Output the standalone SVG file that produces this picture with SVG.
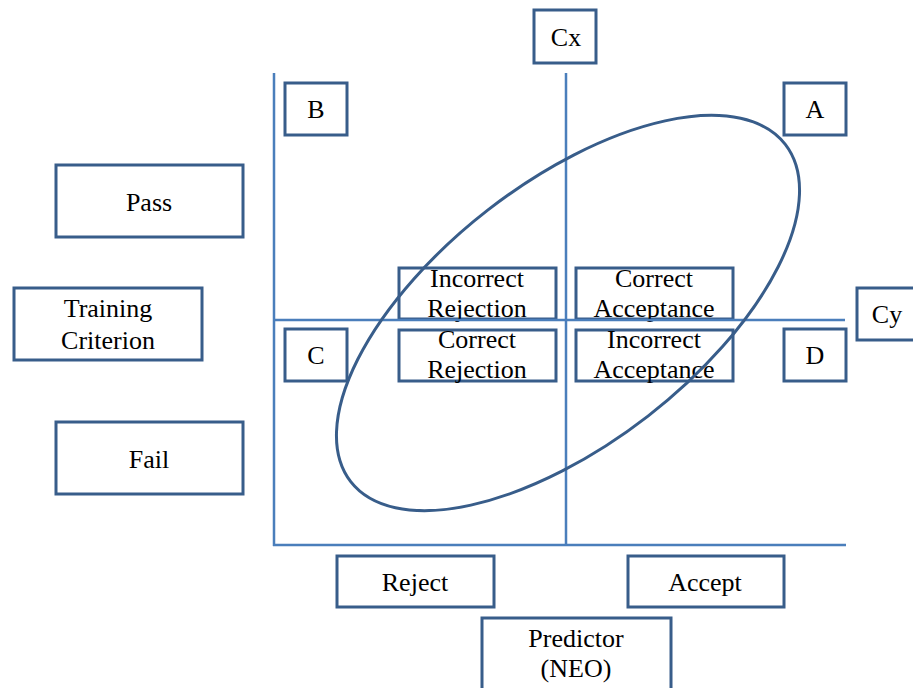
<svg xmlns="http://www.w3.org/2000/svg" width="913" height="688" viewBox="0 0 913 688">
<style>
.box{fill:#ffffff;stroke:#385d8a;stroke-width:3}
.ln{stroke:#4a7ebb;stroke-width:2.5;fill:none}
.ell{fill:none;stroke:#385d8a;stroke-width:3}
text{font-family:"Liberation Serif","Times New Roman",serif;font-size:26px;fill:#000;text-anchor:middle}
</style>
<rect width="913" height="688" fill="#ffffff"/>
<g id="n-pass"><rect class="box" x="56" y="165" width="187" height="72"/><text x="149" y="211">Pass</text></g>
<g id="n-training"><rect class="box" x="14" y="288" width="188" height="72"/><text x="108" y="317">Training</text><text x="108" y="349">Criterion</text></g>
<g id="n-fail"><rect class="box" x="56" y="422" width="187" height="72"/><text x="149" y="468">Fail</text></g>
<g id="n-cx"><rect class="box" x="534" y="10" width="62" height="53"/><text x="566" y="46">Cx</text></g>
<g id="n-b"><rect class="box" x="285" y="83" width="62" height="52"/><text x="316" y="118">B</text></g>
<g id="n-a"><rect class="box" x="784" y="83" width="62" height="52"/><text x="815" y="118">A</text></g>
<g id="n-c"><rect class="box" x="285" y="329" width="62" height="52"/><text x="316" y="364">C</text></g>
<g id="n-d"><rect class="box" x="784" y="329" width="62" height="52"/><text x="815" y="364">D</text></g>
<g id="n-cy"><rect class="box" x="857" y="288" width="62" height="52"/><text x="887" y="323">Cy</text></g>
<g id="n-ir"><rect class="box" x="399" y="268" width="157" height="51"/><text x="477" y="287">Incorrect</text><text x="477" y="317">Rejection</text></g>
<g id="n-ca"><rect class="box" x="576" y="268" width="157" height="51"/><text x="654" y="287">Correct</text><text x="654" y="317">Acceptance</text></g>
<g id="n-cr"><rect class="box" x="399" y="330" width="157" height="51"/><text x="477" y="348">Correct</text><text x="477" y="378">Rejection</text></g>
<g id="n-ia"><rect class="box" x="576" y="330" width="157" height="51"/><text x="654" y="348">Incorrect</text><text x="654" y="378">Acceptance</text></g>
<g id="n-reject"><rect class="box" x="337" y="556" width="157" height="51"/><text x="415" y="591">Reject</text></g>
<g id="n-accept"><rect class="box" x="628" y="556" width="156" height="51"/><text x="705" y="591">Accept</text></g>
<g id="n-predictor"><rect class="box" x="482" y="618" width="189" height="80"/><text x="576" y="647">Predictor</text><text x="576" y="677">(NEO)</text></g>
<g id="connectors">
<line class="ln" x1="274" y1="73" x2="274" y2="546"/>
<line class="ln" x1="273" y1="545" x2="846" y2="545"/>
<line class="ln" x1="566" y1="73" x2="566" y2="546"/>
<line class="ln" x1="274" y1="320" x2="845" y2="320"/>
</g>
<g id="ellipse"><ellipse class="ell" cx="568" cy="313" rx="275" ry="130.5" transform="rotate(-37.8 568 313)"/></g>
</svg>
